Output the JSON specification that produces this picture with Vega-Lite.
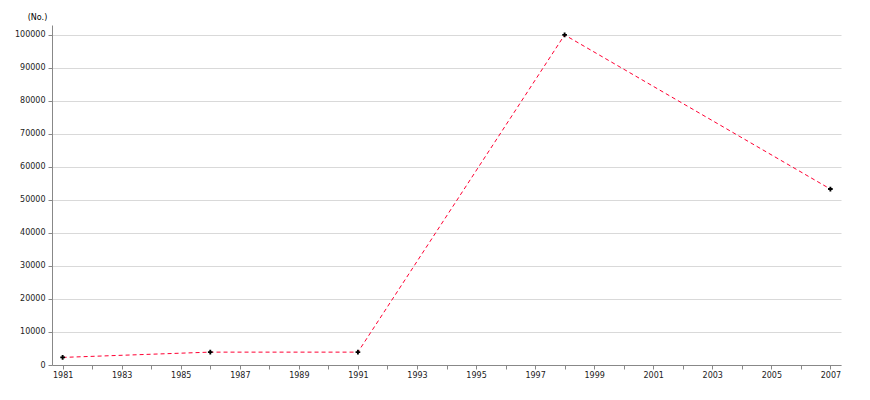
{
  "$schema": "https://vega.github.io/schema/vega-lite/v6.json",
  "autosize": {"type": "none"},
  "padding": {"left": 52, "top": 25, "right": 29, "bottom": 35},
  "width": 789,
  "height": 340,
  "background": "white",
  "config": {
    "view": {"stroke": null},
    "axis": {"labelFont": "DejaVu Sans", "labelFontSize": 8, "labelColor": "#222", "titleFont": "DejaVu Sans", "titleFontSize": 8, "titleFontWeight": "normal", "domainColor": "#888", "tickColor": "#888"}
  },
  "data": {"values": [
    {"year": 1981, "count": 2300},
    {"year": 1986, "count": 3900},
    {"year": 1991, "count": 3900},
    {"year": 1998, "count": 100000},
    {"year": 2007, "count": 53300}
  ]},
  "encoding": {
    "x": {"field": "year", "type": "quantitative",
      "scale": {"domain": [1980.64, 2007.36], "nice": false, "zero": false},
      "axis": {"title": null, "grid": false, "values": [1981,1982,1983,1984,1985,1986,1987,1988,1989,1990,1991,1992,1993,1994,1995,1996,1997,1998,1999,2000,2001,2002,2003,2004,2005,2006,2007],
        "labelExpr": "datum.value % 2 == 1 ? format(datum.value, 'd') : ''", "tickSize": 4, "labelPadding": 2, "labelFlush": false}},
    "y": {"field": "count", "type": "quantitative",
      "scale": {"domain": [0, 103000], "nice": false},
      "axis": {"title": "(No.)", "titleAngle": 0, "titleAlign": "center", "titleBaseline": "bottom", "titleX": -15, "titleY": -4,
        "values": [0,10000,20000,30000,40000,50000,60000,70000,80000,90000,100000], "format": "d",
        "gridColor": "#d9d9d9", "tickSize": 4, "labelPadding": 3}}
  },
  "layer": [
    {"mark": {"type": "line", "color": "#ff0033", "strokeWidth": 1, "strokeDash": [4, 3]}},
    {"mark": {"type": "point", "shape": "cross", "filled": true, "color": "black", "size": 22, "opacity": 1}}
  ]
}
